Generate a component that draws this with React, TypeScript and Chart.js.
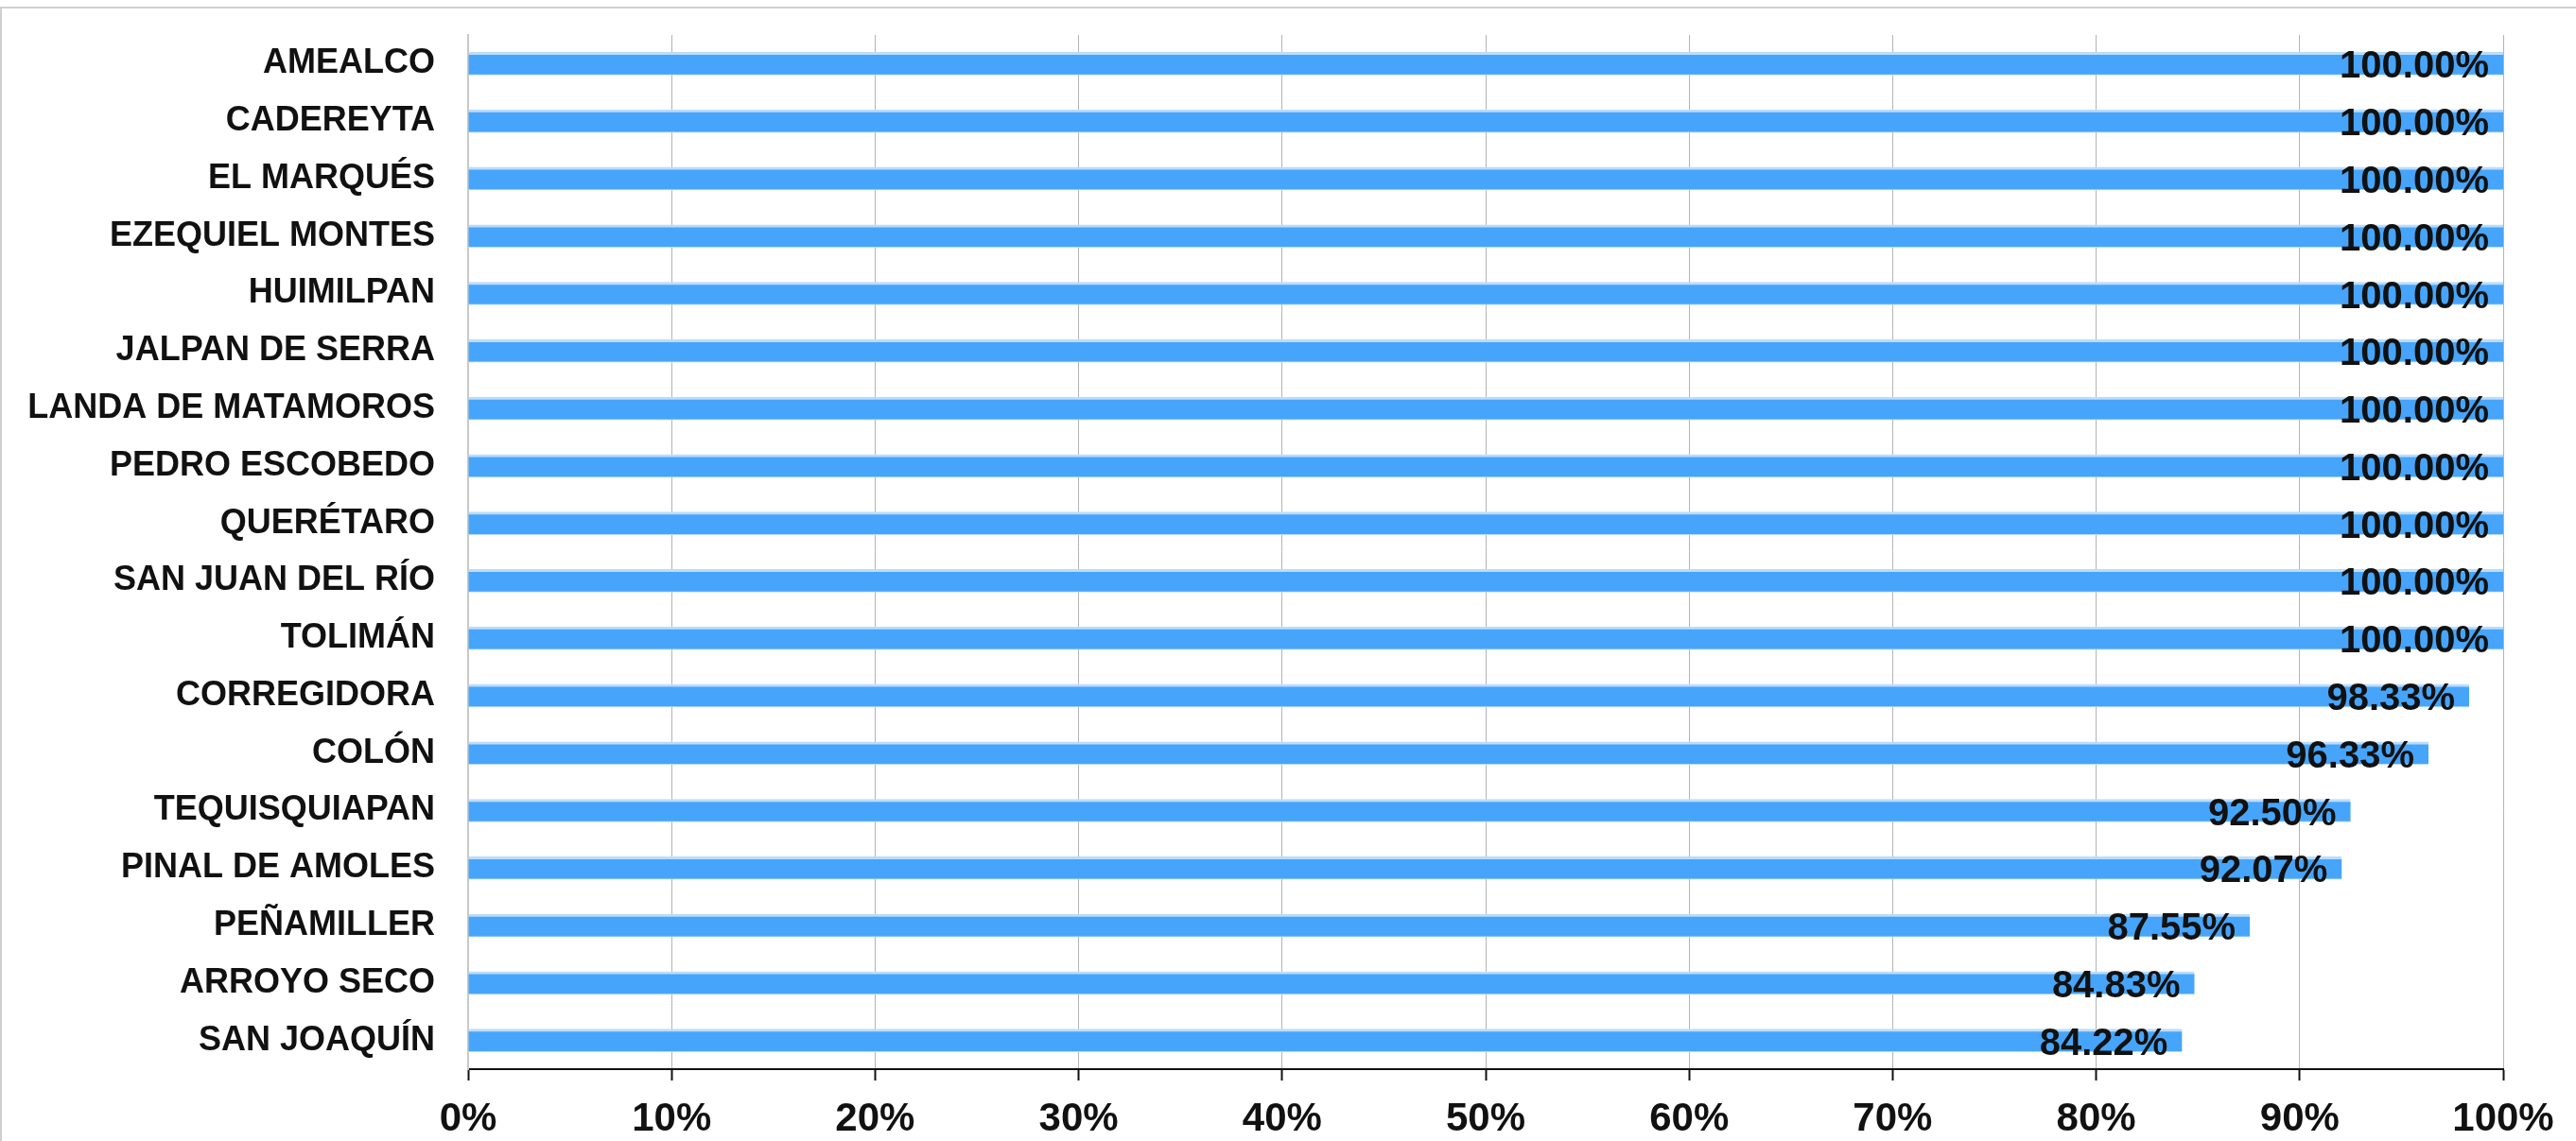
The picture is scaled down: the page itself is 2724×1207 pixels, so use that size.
import React, { useEffect, useRef } from "react";
import { Chart, registerables } from "chart.js";

Chart.register(...registerables);

const categories: string[] = [
  "AMEALCO",
  "CADEREYTA",
  "EL MARQUÉS",
  "EZEQUIEL MONTES",
  "HUIMILPAN",
  "JALPAN DE SERRA",
  "LANDA DE MATAMOROS",
  "PEDRO ESCOBEDO",
  "QUERÉTARO",
  "SAN JUAN DEL RÍO",
  "TOLIMÁN",
  "CORREGIDORA",
  "COLÓN",
  "TEQUISQUIAPAN",
  "PINAL DE AMOLES",
  "PEÑAMILLER",
  "ARROYO SECO",
  "SAN JOAQUÍN",
];

const values: number[] = [
  100, 100, 100, 100, 100, 100, 100, 100, 100, 100, 100,
  98.33, 96.33, 92.5, 92.07, 87.55, 84.83, 84.22,
];

const xMin = 0;
const xMax = 100;
const xStep = 10;

const FONT = "'Liberation Sans', Arial, Helvetica, sans-serif";

const valueLabelPlugin = {
  id: "valueLabels",
  afterDatasetsDraw(chart: any) {
    const { ctx } = chart;
    const meta = chart.getDatasetMeta(0);
    ctx.save();
    ctx.font = `bold 40px ${FONT}`;
    ctx.fillStyle = "#111111";
    ctx.textAlign = "right";
    ctx.textBaseline = "alphabetic";
    meta.data.forEach((bar: any, i: number) => {
      const { x, y } = bar.getProps(["x", "y"], true);
      ctx.fillText(values[i].toFixed(2) + "%", x - 15, y + 15);
    });
    ctx.restore();
  },
};

export default function App() {
  const canvasRef = useRef<HTMLCanvasElement | null>(null);

  useEffect(() => {
    document.body.style.margin = "0";
    const canvas = canvasRef.current;
    if (!canvas) return;
    const chart = new Chart(canvas, {
      type: "bar",
      data: {
        labels: categories,
        datasets: [
          {
            data: values,
            backgroundColor: "#46a5fa",
            borderColor: "#bcdcfa",
            borderWidth: { top: 3, bottom: 1, left: 0, right: 0 } as any,
            borderSkipped: false,
            barThickness: 24,
          },
        ],
      },
      options: {
        indexAxis: "y",
        responsive: false,
        maintainAspectRatio: false,
        animation: false,
        events: [],
        layout: { padding: { left: 0, right: 77, top: 37, bottom: 0 } },
        plugins: {
          legend: { display: false },
          tooltip: { enabled: false },
          title: { display: false },
        },
        scales: {
          x: {
            type: "linear",
            min: xMin,
            max: xMax,
            ticks: {
              stepSize: xStep,
              autoSkip: false,
              maxRotation: 0,
              padding: 16,
              color: "#111111",
              font: { family: FONT, size: 42, weight: "bold" },
              callback: (v: any) => `${v}%`,
            },
            grid: {
              display: true,
              drawOnChartArea: true,
              drawTicks: true,
              tickLength: 12,
              tickColor: "#111111",
              tickWidth: 2,
              color: "#b4b4b4",
              lineWidth: 1,
              borderDash: [2, 3],
            } as any,
            border: { display: true, color: "#111111", width: 2 } as any,
            afterFit: (scale: any) => {
              scale.height = 76;
              scale.paddingLeft = 0;
              scale.paddingRight = 0;
            },
          },
          y: {
            type: "category",
            ticks: {
              padding: 35,
              color: "#111111",
              autoSkip: false,
              font: { family: FONT, size: 36, weight: "bold" },
            },
            grid: { display: false, drawTicks: false },
            border: { display: true, color: "#c8c8c8", width: 2 },
            afterFit: (scale: any) => {
              scale.width = 495;
              scale.paddingTop = 0;
              scale.paddingBottom = 0;
            },
          },
        },
      } as any,
      plugins: [valueLabelPlugin],
    });
    return () => chart.destroy();
  }, []);

  return (
    <div
      style={{
        position: "fixed",
        left: 0,
        top: 0,
        width: 2724,
        height: 1207,
        background: "#ffffff",
        overflow: "hidden",
      }}
    >
      <canvas
        ref={canvasRef}
        width={2724}
        height={1207}
        style={{ position: "absolute", left: 0, top: 0, width: 2724, height: 1207 }}
      />
      <div
        style={{
          position: "absolute",
          left: 0,
          top: 7,
          width: 2740,
          height: 1220,
          borderTop: "2px solid #cfcfcf",
          borderLeft: "2px solid #cfcfcf",
          pointerEvents: "none",
          boxSizing: "border-box",
        }}
      />
    </div>
  );
}
